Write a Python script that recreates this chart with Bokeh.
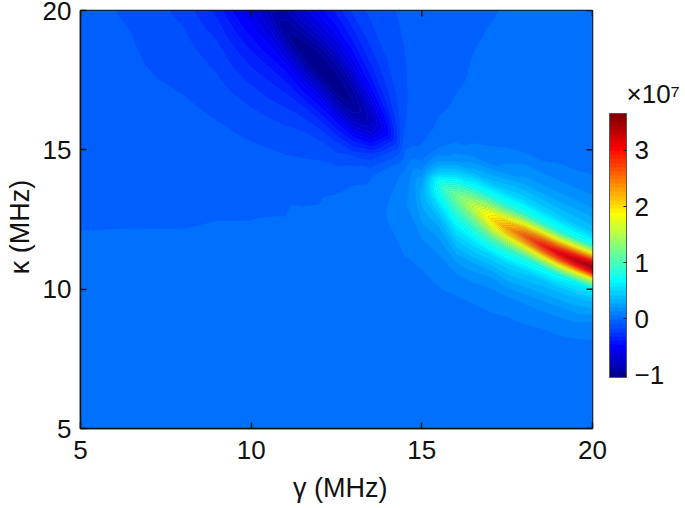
from bokeh.plotting import figure
from bokeh.models import ColorBar, FixedTicker, LinearAxis, LinearColorMapper
from bokeh.embed import file_html
from bokeh.resources import INLINE
import numpy as np

FONT = "Liberation Sans"

# z values are in units of 10^7.
# The mesh follows the ridge of the two lobes: each column gamma[j] is sampled at
# kappa = ridge_kappa[j] + offsets[i], kept inside the plotted 5..20 range.
gamma = [5,6.5,8,9,10,10.5,11,11.5,12,12.5,13,13.5,14,14.5,15,15.5,16,16.5,17,17.5,18,18.5,19,19.5,20]
ridge_kappa = [20,20,20,20,20,20,19.25,18.6,18,17.3,16.7,16.1,15.65,15.15,14,13.72,13.33,12.93,12.55,12.2,11.92,11.6,11.3,11.04,10.79]
offsets = [-15,-9.5,-7.5,-6,-4.5,-3.7,-3,-2.5,-2,-1.3,-.8,-.45,-.2,0,.2,.45,.8,1.3,2,3,4.5,7,15]

z_by_gamma = [
 [0,-.007,-.023,-.035,-.045,-.05,-.054,-.058,-.06,-.063,-.065,-.067,-.069,-.07,-.07,-.07,-.07,-.07,-.07,-.07,-.07,-.07,-.07],
 [0,-.008,-.022,-.039,-.052,-.062,-.07,-.076,-.083,-.089,-.094,-.098,-.102,-.105,-.105,-.105,-.105,-.105,-.105,-.105,-.105,-.105,-.105],
 [0,-.009,-.022,-.04,-.067,-.08,-.094,-.108,-.122,-.14,-.157,-.172,-.183,-.19,-.19,-.19,-.19,-.19,-.19,-.19,-.19,-.19,-.19],
 [0,-.01,-.02,-.045,-.08,-.1,-.135,-.157,-.18,-.225,-.265,-.3,-.325,-.345,-.345,-.345,-.345,-.345,-.345,-.345,-.345,-.345,-.345],
 [0,-.01,-.02,-.05,-.1,-.15,-.205,-.26,-.32,-.41,-.49,-.54,-.58,-.62,-.62,-.62,-.62,-.62,-.62,-.62,-.62,-.62,-.62],
 [0,-.01,-.018,-.045,-.115,-.18,-.26,-.32,-.39,-.52,-.63,-.71,-.76,-.8,-.8,-.8,-.8,-.8,-.8,-.8,-.8,-.8,-.8],
 [0,-.005,-.014,-.024,-.09,-.135,-.21,-.27,-.35,-.49,-.66,-.82,-.93,-.97,-.95,-.9,-.85,-.85,-.85,-.85,-.85,-.85,-.85],
 [0,-.003,-.007,-.012,-.045,-.11,-.16,-.23,-.32,-.52,-.72,-.88,-1.0,-1.03,-1.01,-.95,-.83,-.68,-.65,-.65,-.65,-.65,-.65],
 [0,-.002,-.005,-.01,-.024,-.07,-.125,-.19,-.3,-.5,-.72,-.93,-1.03,-1.05,-1.03,-.99,-.87,-.68,-.5,-.5,-.5,-.5,-.5],
 [0,0,-.002,-.004,-.008,-.024,-.08,-.15,-.25,-.47,-.74,-.94,-1.02,-1.04,-1.02,-.98,-.9,-.7,-.49,-.37,-.37,-.37,-.37],
 [0,0,0,.001,-.002,-.006,-.019,-.055,-.15,-.44,-.72,-.88,-.95,-.98,-.95,-.9,-.78,-.6,-.42,-.26,-.22,-.22,-.22],
 [0,.001,.003,.006,.01,.008,0,-.008,-.026,-.22,-.5,-.7,-.78,-.8,-.77,-.7,-.58,-.44,-.32,-.2,-.15,-.15,-.15],
 [0,.001,.005,.01,.025,.042,.058,.05,.025,-.02,-.16,-.3,-.44,-.5,-.47,-.42,-.34,-.265,-.2,-.145,-.105,-.105,-.105],
 [0,.002,.008,.02,.042,.06,.095,.125,.125,.09,.045,-.005,-.03,-.05,-.07,-.09,-.1,-.105,-.105,-.098,-.085,-.08,-.08],
 [.001,.001,.005,.012,.025,.04,.065,.1,.145,.25,.3,.3,.26,.2,.14,.085,.01,-.028,-.045,-.06,-.065,-.055,-.055],
 [.001,.001,.003,.01,.025,.052,.08,.125,.18,.31,.5,.68,.76,.8,.72,.45,.23,.06,-.01,-.03,-.043,-.045,-.045],
 [.001,.001,.003,.009,.026,.045,.09,.17,.29,.52,.76,.98,1.12,1.2,1.1,.83,.48,.17,.04,-.012,-.03,-.042,-.042],
 [.001,.001,.003,.008,.025,.04,.08,.155,.27,.53,.85,1.2,1.45,1.55,1.45,1.15,.68,.31,.068,.02,-.014,-.028,-.03],
 [.002,.002,.003,.007,.022,.04,.07,.13,.22,.5,.93,1.5,1.82,1.95,1.82,1.4,.8,.38,.1,.02,-.004,-.02,-.022],
 [.002,.002,.002,.006,.022,.042,.058,.12,.24,.48,.88,1.6,2.08,2.28,2.08,1.6,.85,.46,.17,.035,.003,-.012,-.018],
 [.003,.003,.003,.006,.02,.037,.06,.115,.22,.45,.85,1.7,2.3,2.62,2.3,1.75,.86,.47,.22,.052,.012,-.004,-.012],
 [.003,.003,.003,.004,.016,.036,.054,.105,.2,.4,.78,1.75,2.55,2.9,2.55,1.85,.85,.46,.23,.054,.018,0,-.008],
 [.003,.003,.003,.004,.013,.03,.05,.09,.18,.38,.72,1.8,2.7,3.12,2.7,1.9,.83,.45,.23,.06,.017,.002,-.005],
 [.004,.004,.004,.004,.012,.027,.04,.075,.17,.36,.65,1.75,2.85,3.3,2.85,1.95,.8,.42,.23,.06,.02,.004,-.003],
 [.004,.004,.004,.004,.012,.024,.033,.06,.12,.33,.58,1.7,2.95,3.45,3.0,2.0,.78,.4,.22,.063,.018,.006,-.001],
]
x_ticks = [5, 10, 15, 20]
y_ticks = [5, 10, 15, 20]
cbar_ticks = [-1, 0, 1, 2, 3]
z_low, z_high = -1.05, 3.66
x_title = "\u00a0γ (MHz)"
y_title = "κ (MHz)\u00a0\u00a0"
cbar_title = "×10⁷"


def jet(n):
    out = []
    for t in np.arange(1, n + 1) / n:
        r = np.clip(min(4 * t - 1.5, -4 * t + 4.5), 0, 1)
        g = np.clip(min(4 * t - 0.5, -4 * t + 3.5), 0, 1)
        b = np.clip(min(4 * t + 0.5, -4 * t + 2.5), 0, 1)
        out.append("#%02x%02x%02x" % (round(r * 255), round(g * 255), round(b * 255)))
    return out


palette = jet(64)
levels = list(np.linspace(z_low, z_high, 65))
levels[0] -= 0.01
z = np.array(z_by_gamma).T
xx = np.tile(np.array(gamma, dtype=float), (len(offsets), 1))
yy = np.clip(np.add.outer(np.array(offsets, dtype=float), np.array(ridge_kappa, dtype=float)), 5, 20)

p = figure(width=685, height=508, x_range=(5, 20), y_range=(5, 20),
           output_backend="svg", toolbar_location=None,
           min_border_left=80, min_border_right=93, min_border_top=10, min_border_bottom=80,
           frame_width=512, frame_height=418, background_fill_color="#0070ff")
p.grid.visible = False
p.xaxis.visible = False
p.yaxis.visible = False
p.outline_line_color = "#111111"
p.outline_line_width = 1.5

p.contour(xx, yy, z, levels, fill_color=palette, line_color=palette + [palette[-1]], line_width=0.6)


def axis(ticks, title, tick_standoff, title_standoff):
    return LinearAxis(ticker=FixedTicker(ticks=ticks), major_tick_in=6, major_tick_out=0,
                      minor_tick_line_color=None, axis_line_color="#111111", axis_line_width=1.5,
                      major_tick_line_color="#111111", major_tick_line_width=1.5,
                      major_label_text_font=FONT, major_label_text_font_size="26px",
                      major_label_text_color="#111111", major_label_standoff=tick_standoff,
                      axis_label=title, axis_label_text_font=FONT, axis_label_text_font_size="27px",
                      axis_label_text_font_style="normal", axis_label_text_color="#111111",
                      axis_label_standoff=title_standoff)


p.add_layout(axis(x_ticks, x_title, 12, 11), "below")
p.add_layout(axis(y_ticks, y_title, 9, 5), "left")

# the multiplier above the colour bar, set as a one-tick label of an otherwise bare axis
title_axis = LinearAxis(ticker=FixedTicker(ticks=[17]), major_label_overrides={17: cbar_title},
                        axis_line_color=None, major_tick_line_color=None, minor_tick_line_color=None,
                        major_tick_in=0, major_tick_out=0, major_label_standoff=34,
                        major_label_text_font=FONT, major_label_text_font_size="26px",
                        major_label_text_color="#111111")
p.add_layout(title_axis, "right")

p.scatter(x_ticks, [20] * len(x_ticks), marker="dash", size=12, angle=np.pi / 2,
          line_color="#111111", line_width=1.5)
p.scatter([20] * len(y_ticks), y_ticks, marker="dash", size=12,
          line_color="#111111", line_width=1.5)

mapper = LinearColorMapper(palette=palette, low=z_low, high=z_high)
cb = ColorBar(color_mapper=mapper, ticker=FixedTicker(ticks=cbar_ticks), width=17, height=264,
              location=(529, 51), padding=0, margin=0,
              major_tick_in=3, major_tick_line_color="#111111", bar_line_color="#555555",
              major_label_text_font=FONT, major_label_text_font_size="26px",
              major_label_text_color="#111111", label_standoff=8,
              background_fill_color=None, border_line_color=None)
p.add_layout(cb, "center")

open("out.html", "w").write(file_html(p, INLINE))
